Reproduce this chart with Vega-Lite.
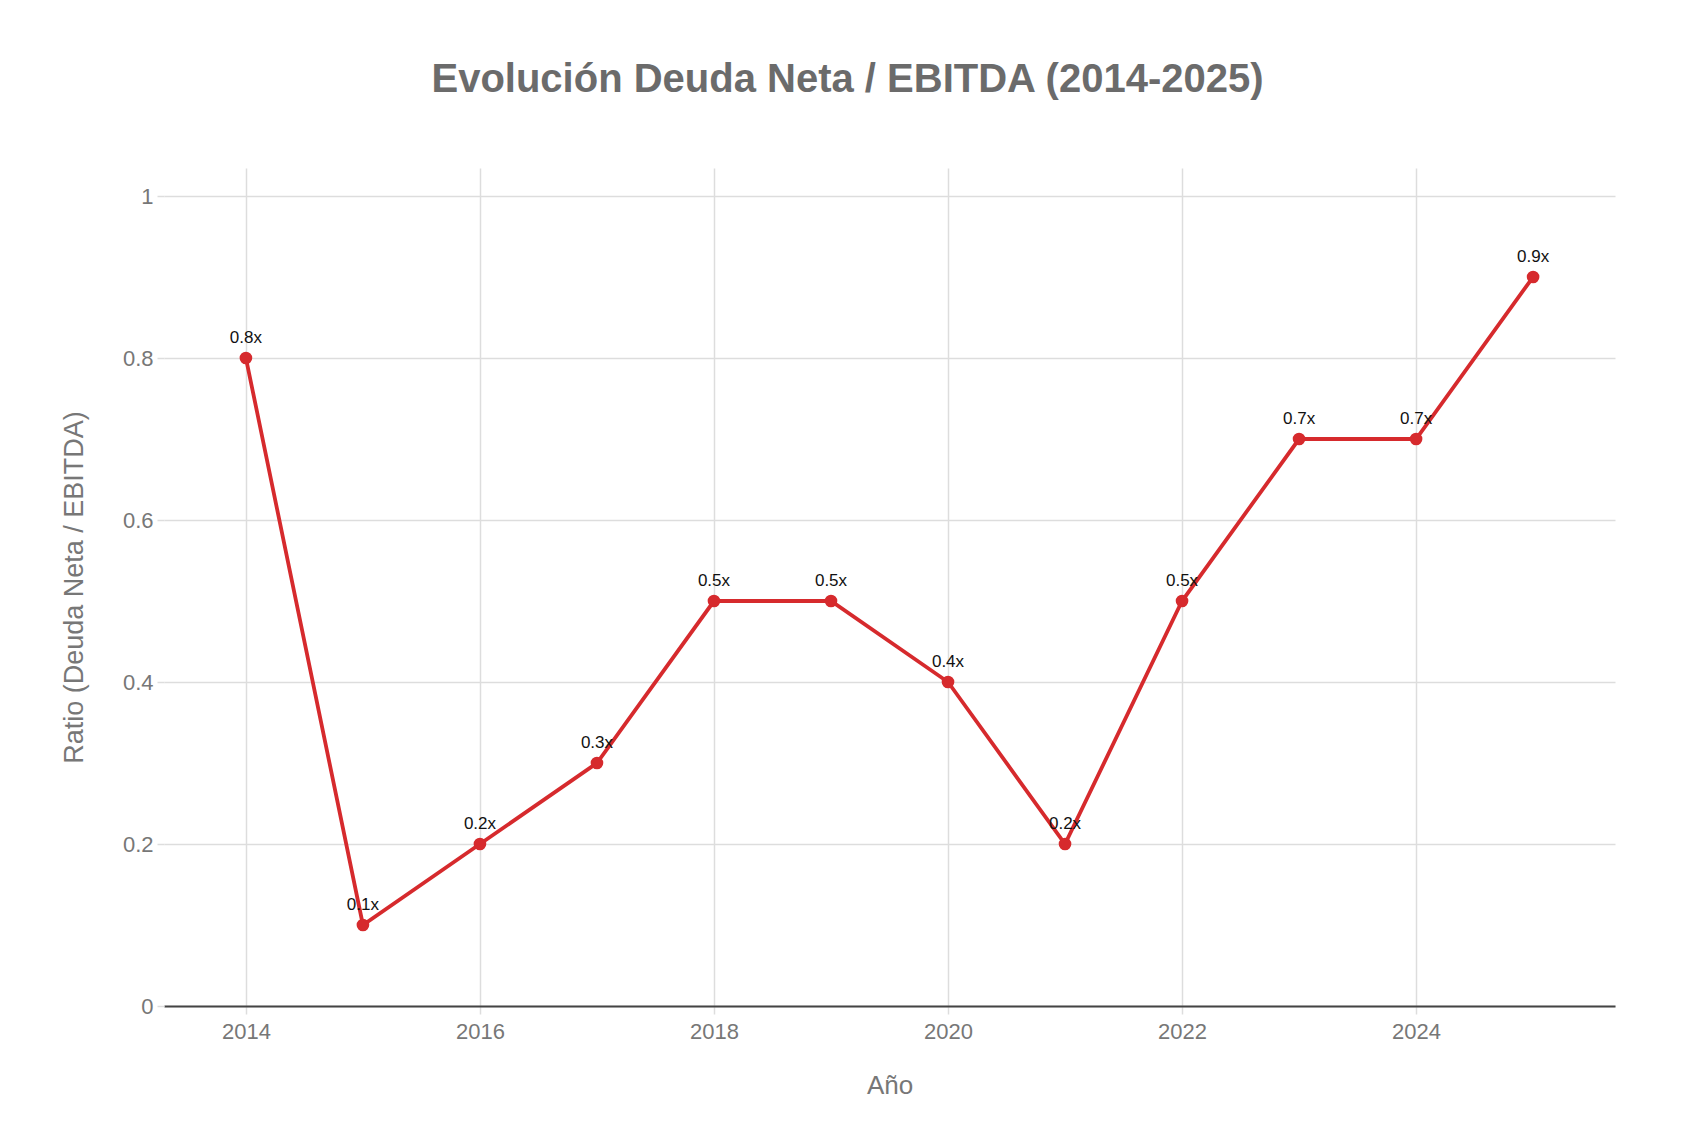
{
  "$schema": "https://vega.github.io/schema/vega-lite/v6.json",
  "autosize": {"type": "none"},
  "width": 1451,
  "height": 838,
  "padding": {"left": 164, "top": 168, "right": 67, "bottom": 120},
  "background": "white",
  "config": {
    "font": "Liberation Sans",
    "view": {"stroke": null}
  },
  "title": {
    "text": "Evolución Deuda Neta / EBITDA (2014-2025)",
    "fontSize": 40,
    "fontWeight": "bold",
    "color": "#6b6b6b",
    "anchor": "middle",
    "dx": -42,
    "offset": 68
  },
  "data": {
    "values": [
      {"year": 2014, "ratio": 0.8, "label": "0.8x"},
      {"year": 2015, "ratio": 0.1, "label": "0.1x"},
      {"year": 2016, "ratio": 0.2, "label": "0.2x"},
      {"year": 2017, "ratio": 0.3, "label": "0.3x"},
      {"year": 2018, "ratio": 0.5, "label": "0.5x"},
      {"year": 2019, "ratio": 0.5, "label": "0.5x"},
      {"year": 2020, "ratio": 0.4, "label": "0.4x"},
      {"year": 2021, "ratio": 0.2, "label": "0.2x"},
      {"year": 2022, "ratio": 0.5, "label": "0.5x"},
      {"year": 2023, "ratio": 0.7, "label": "0.7x"},
      {"year": 2024, "ratio": 0.7, "label": "0.7x"},
      {"year": 2025, "ratio": 0.9, "label": "0.9x"}
    ]
  },
  "encoding": {
    "x": {
      "field": "year",
      "type": "quantitative",
      "scale": {"domain": [2013.3, 2025.7], "nice": false, "zero": false},
      "axis": {
        "title": "Año",
        "titleFontSize": 26,
        "titleFontWeight": "normal",
        "titleColor": "#777777",
        "titlePadding": 30,
        "values": [2014, 2016, 2018, 2020, 2022, 2024],
        "format": "d",
        "labelFontSize": 22,
        "labelColor": "#777777",
        "labelPadding": 7,
        "tickSize": 8,
        "tickColor": "#dddddd",
        "tickWidth": 1.5,
        "domainColor": "#444444",
        "domainWidth": 2,
        "gridColor": "#dddddd",
        "gridWidth": 1.5
      }
    },
    "y": {
      "field": "ratio",
      "type": "quantitative",
      "scale": {"domain": [0, 1.0346], "nice": false},
      "axis": {
        "title": "Ratio (Deuda Neta / EBITDA)",
        "titleFontSize": 27,
        "titleFontWeight": "normal",
        "titleColor": "#777777",
        "titlePadding": 34,
        "values": [0, 0.2, 0.4, 0.6, 0.8, 1],
        "format": "~g",
        "labelFontSize": 22,
        "labelColor": "#777777",
        "labelPadding": 4,
        "tickSize": 7,
        "tickColor": "#dddddd",
        "tickWidth": 1.5,
        "domain": false,
        "gridColor": "#dddddd",
        "gridWidth": 1.5
      }
    }
  },
  "layer": [
    {
      "mark": {"type": "line", "color": "#d62a2d", "strokeWidth": 3.8}
    },
    {
      "mark": {"type": "point", "filled": true, "color": "#d62a2d", "size": 160, "opacity": 1}
    },
    {
      "mark": {"type": "text", "color": "#111111", "fontSize": 17, "baseline": "alphabetic", "dy": -15},
      "encoding": {"text": {"field": "label"}}
    }
  ]
}
